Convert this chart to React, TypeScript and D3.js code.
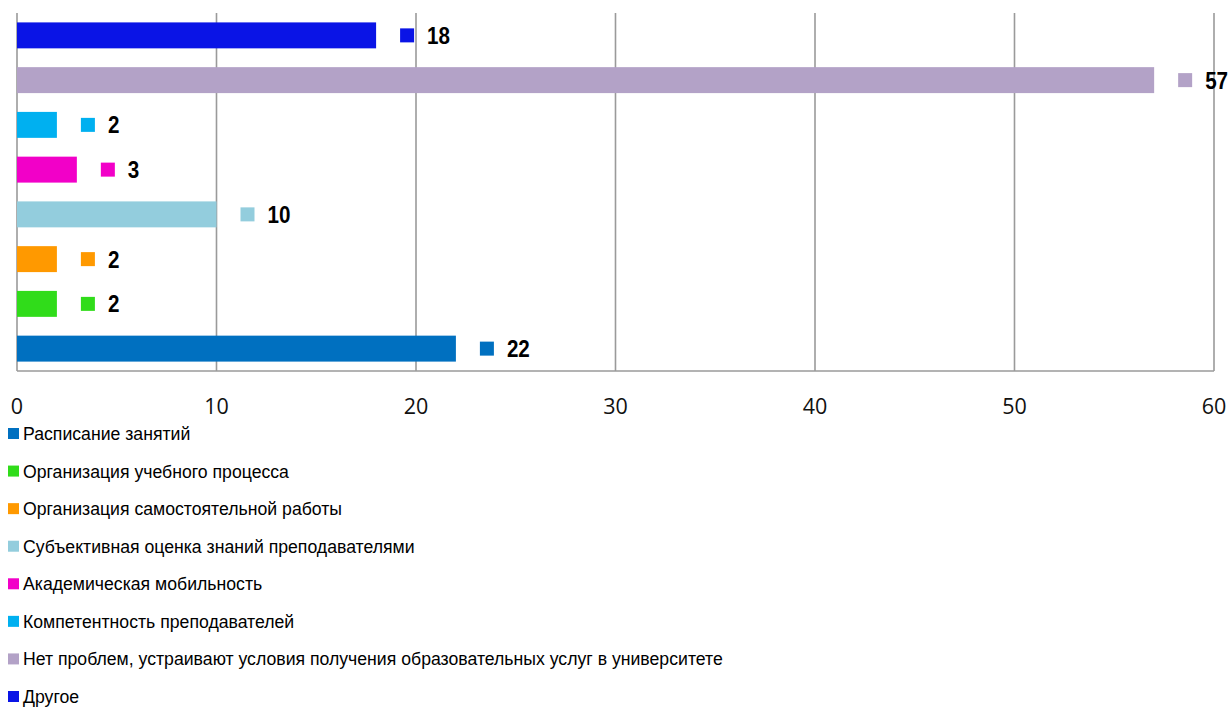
import React from "react";
import * as d3 from "d3";

const categories: string[] = [
  "Расписание занятий",
  "Организация учебного процесса",
  "Организация самостоятельной работы",
  "Субъективная оценка знаний преподавателями",
  "Академическая мобильность",
  "Компетентность преподавателей",
  "Нет проблем, устраивают условия получения образовательных услуг в университете",
  "Другое",
];
const values: number[] = [22, 2, 2, 10, 3, 2, 57, 18];
const colors: string[] = [
  "#0070c0",
  "#30dc1a",
  "#ff9900",
  "#93cddd",
  "#f200c8",
  "#00b0f0",
  "#b3a2c7",
  "#0a14e6",
];
const xTicks: number[] = [0, 10, 20, 30, 40, 50, 60];

const W = 1231;
const H = 707;
const narrow = "'Liberation Sans Narrow', 'Arial Narrow', 'Liberation Sans', Arial, sans-serif";

export default function App() {
  const x = d3.scaleLinear().domain([0, 60]).range([17, 1214]);
  const y = d3
    .scaleBand<string>()
    .domain([...categories].reverse())
    .range([13, 371])
    .paddingInner(0.42)
    .paddingOuter(0.21);
  const bw = y.bandwidth();

  const legendY = d3
    .scalePoint<string>()
    .domain(categories)
    .range([433.5, 696.5]);

  return (
    <svg
      width={W}
      height={H}
      style={{ position: "absolute", left: 0, top: 0, display: "block", background: "#fff" }}
    >
      {xTicks.map((t) => (
        <line
          key={"g" + t}
          x1={x(t)}
          x2={x(t)}
          y1={13}
          y2={371}
          stroke="#9a9a9a"
          strokeWidth={1.6}
        />
      ))}
      <line x1={x(0)} x2={x(60)} y1={371} y2={371} stroke="#9a9a9a" strokeWidth={1.6} />
      {xTicks.map((t) => (
        <text
          key={"t" + t}
          x={x(t)}
          y={414}
          textAnchor="middle"
          fontFamily="'Open Sans', sans-serif"
          fontSize={21.5}
          fill="#111"
        >
          {t}
        </text>
      ))}
      {categories.map((c, i) => {
        const y0 = y(c) as number;
        const xe = x(values[i]);
        const cy = y0 + bw / 2;
        return (
          <g key={"b" + i}>
            <rect x={x(0)} y={y0} width={xe - x(0)} height={bw} fill={colors[i]} />
            <rect x={xe + 24} y={cy - 7} width={14} height={14} fill={colors[i]} />
            <text
              transform={`translate(${xe + 51},${cy + 8.5}) scale(0.86,1)`}
              fontFamily={narrow}
              fontWeight="bold"
              fontSize={24}
              fill="#000"
            >
              {values[i]}
            </text>
          </g>
        );
      })}
      {categories.map((c, i) => {
        const ly = legendY(c) as number;
        return (
          <g key={"l" + i}>
            <rect x={8} y={ly - 5.5} width={11} height={11} fill={colors[i]} />
            <text
              transform={`translate(23,${ly + 6.5}) scale(0.955,1)`}
              fontFamily={narrow}
              fontSize={18.5}
              fill="#000"
            >
              {c}
            </text>
          </g>
        );
      })}
    </svg>
  );
}
